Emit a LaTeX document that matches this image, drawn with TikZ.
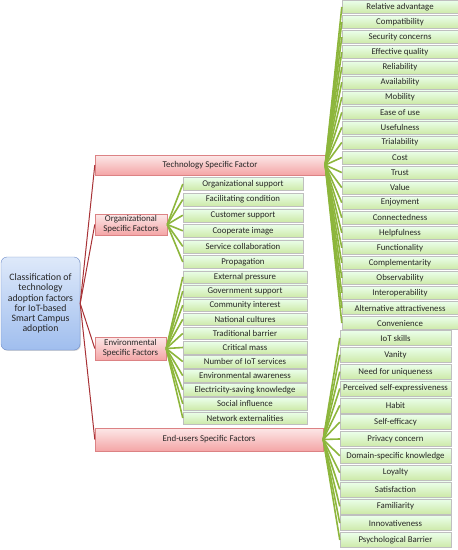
\documentclass[tikz,border=0pt]{standalone}
\usepackage{fontspec}
\setmainfont{Carlito}
\usetikzlibrary{shadows}

\definecolor{leafline}{HTML}{8DB63C}
\definecolor{rootline}{HTML}{A83236}
\definecolor{txtgray}{HTML}{262626}

\tikzset{
  leafbox/.style={draw=black!25, top color=green!8!white, bottom color={rgb,255:red,205;green,233;blue,168},
    drop shadow={shadow xshift=0.8pt, shadow yshift=-0.8pt, opacity=0.35},
    inner sep=0pt, text=txtgray, font=\fontsize{8.8}{9}\selectfont},
  catbox/.style={draw={rgb,255:red,220;green,130;blue,132}, top color={rgb,255:red,252;green,232;blue,232},
    bottom color={rgb,255:red,244;green,165;blue,166},
    drop shadow={shadow xshift=0.8pt, shadow yshift=-0.8pt, opacity=0.35},
    inner sep=0pt, align=center, text=txtgray, font=\fontsize{8.9}{10}\selectfont},
  rootbox/.style={draw={rgb,255:red,110;green,140;blue,200}, rounded corners=6pt,
    top color={rgb,255:red,222;green,233;blue,250}, bottom color={rgb,255:red,160;green,190;blue,238},
    drop shadow={shadow xshift=0.8pt, shadow yshift=-0.8pt, opacity=0.35},
    inner sep=0pt, align=center, text=txtgray, font=\fontsize{9.8}{10.2}\selectfont},
  greenlink/.style={draw=leafline, line width=1.6pt},
  redlink/.style={draw=rootline, line width=1pt}
}

\begin{document}
\begin{tikzpicture}[x=1pt,y=-1pt]
  \useasboundingbox (0,0) rectangle (458,550);

  % root of the tree
  \node[rootbox, minimum width=79pt, minimum height=93pt] (root) at (40.5,303.5)
    {Classification of\\technology\\adoption factors\\for IoT-based\\Smart Campus\\adoption};

  % the four groups of factors
  \node[catbox, minimum width=230pt, minimum height=20pt] (tech) at (210,165) {Technology Specific Factor};
  \node[catbox, minimum width=72pt, minimum height=21pt] (org) at (131,224.5) {Organizational\\Specific Factors};
  \node[catbox, minimum width=71pt, minimum height=23pt] (env) at (130.5,348.5) {Environmental\\Specific Factors};
  \node[catbox, minimum width=228pt, minimum height=23pt] (user) at (209,439.5) {End-users Specific Factors};

  % technology factors
  \foreach \name [count=\i] in {Relative advantage, Compatibility, Security concerns, Effective quality,
      Reliability, Availability, Mobility, Ease of use, Usefulness, Trialability, Cost, Trust, Value,
      Enjoyment, Connectedness, Helpfulness, Functionality, Complementarity, Observability,
      Interoperability, Alternative attractiveness, Convenience}
    \node[leafbox, minimum width=116pt, minimum height=13pt] (t\i) at (400,{7+15.05*(\i-1)}) {\name};

  % organizational factors
  \foreach \name [count=\i] in {Organizational support, Facilitating condition, Customer support,
      Cooperate image, Service collaboration, Propagation}
    \node[leafbox, minimum width=120pt, minimum height=13pt] (o\i) at (243,{184+15.6*(\i-1)}) {\name};

  % environmental factors
  \foreach \name [count=\i] in {External pressure, Government support, Community interest,
      National cultures, Traditional barrier, Critical mass, Number of IoT services,
      Environmental awareness, Electricity-saving knowledge, Social influence, Network externalities}
    \node[leafbox, minimum width=124pt, minimum height=12.5pt] (e\i) at (245,{277+14.1*(\i-1)}) {\name};

  % end-user factors
  \foreach \name [count=\i] in {IoT skills, Vanity, Need for uniqueness, Perceived self-expressiveness,
      Habit, Self-efficacy, Privacy concern, Domain-specific knowledge, Loyalty, Satisfaction,
      Familiarity, Innovativeness, Psychological Barrier}
    \node[leafbox, minimum width=111pt, minimum height=15pt] (u\i) at (395.5,{338+16.83*(\i-1)}) {\name};

  % connectors
  \foreach \g in {tech,org,env,user}
    \draw[redlink] (root.east) -- (\g.west);
  \foreach \i in {1,...,22}
    \draw[greenlink] (tech.east) -- (t\i.west);
  \foreach \i in {1,...,6}
    \draw[greenlink] (org.east) -- (o\i.west);
  \foreach \i in {1,...,11}
    \draw[greenlink] (env.east) -- (e\i.west);
  \foreach \i in {1,...,13}
    \draw[greenlink] (user.east) -- (u\i.west);
\end{tikzpicture}
\end{document}
